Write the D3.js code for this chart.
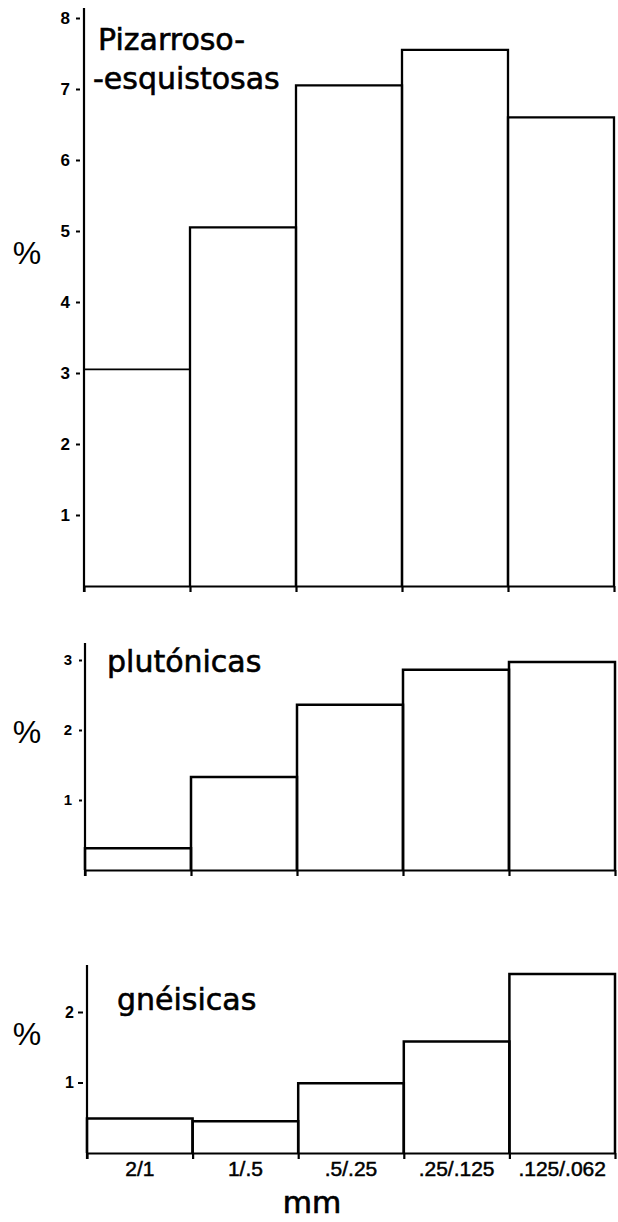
<!DOCTYPE html>
<html><head><meta charset="utf-8">
<script src="https://cdn.jsdelivr.net/npm/d3@7"></script>
<style>
html,body{margin:0;padding:0;background:#fff;}
svg{display:block;}
text{font-family:"DejaVu Sans","Liberation Sans",sans-serif;fill:#000;}
</style></head>
<body>
<svg id="c" width="618" height="1222"></svg>
<script>
// ---- data ----
const categories = ["2/1", "1/.5", ".5/.25", ".25/.125", ".125/.062"];
const pizarrosoValues = [3.05, 5.05, 7.05, 7.55, 6.6];
const plutonicasValues = [0.31, 1.33, 2.36, 2.86, 2.97];
const gneisicasValues = [0.49, 0.45, 0.99, 1.58, 2.54];
const pizarrosoTicks = [1, 2, 3, 4, 5, 6, 7, 8];
const plutonicasTicks = [1, 2, 3];
const gneisicasTicks = [1, 2];
const titles = [["Pizarroso-", "-esquistosas"], ["plutónicas"], ["gnéisicas"]];
const yLabel = "%";
const xLabel = "mm";

// ---- layout ----
const panels = [
  {values: pizarrosoValues, ticks: pizarrosoTicks, ymax: 8, x0: 84, x1: 614, base: 586, top: 18, axisTop: 8,
   title: titles[0], titleX: [98, 93], titleY: [50, 89], pctY: 264, tickFont: 17, tickPad: 14, tickDash: [-8, -4], sw: 2.3},
  {values: plutonicasValues, ticks: plutonicasTicks, ymax: 3, x0: 85, x1: 615, base: 870, top: 660, axisTop: 643,
   title: titles[1], titleX: [107], titleY: [672], pctY: 743, tickFont: 15, tickPad: 13, tickDash: [-6, -3], sw: 2.5},
  {values: gneisicasValues, ticks: gneisicasTicks, ymax: 2, x0: 87, x1: 615, base: 1153, top: 1012, axisTop: 965,
   title: titles[2], titleX: [117], titleY: [1010], pctY: 1045, tickFont: 16, tickPad: 13, tickDash: [-9, -4], sw: 2.5, labels: true}
];

const svg = d3.select("#c");

panels.forEach((p, pi) => {
  const g = svg.append("g");
  const y = d3.scaleLinear().domain([0, p.ymax]).range([p.base, p.top]);
  const xb = d3.scaleBand().domain(categories).range([p.x0, p.x1]).padding(0);
  const xe = d3.scaleLinear().domain([0, categories.length]).range([p.x0, p.x1]);

  // histogram outline (step shape per bin)
  categories.forEach((c, i) => {
    const v = p.values[i];
    const a = xb(c), b = a + xb.bandwidth();
    const path = d3.path();
    path.moveTo(a, y(0));
    path.lineTo(a, y(v));
    path.lineTo(b, y(v));
    path.lineTo(b, y(0));
    g.append("path").attr("d", path.toString())
      .attr("fill", "none").attr("stroke", "#000")
      .attr("stroke-width", (pi === 0 && i === 0) ? 1.7 : p.sw);
  });

  // x axis: baseline + edge ticks
  const xa = g.append("g").attr("transform", `translate(0,${p.base})`)
    .call(d3.axisBottom(xe).tickValues(d3.range(categories.length + 1)).tickSize(6).tickFormat("").tickSizeOuter(0));
  xa.select(".domain").attr("stroke", "#000").attr("stroke-width", 2.2);
  xa.selectAll(".tick line").attr("stroke", "#000").attr("stroke-width", 2.2);

  // category labels (bottom panel only)
  if (p.labels) {
    const la = g.append("g").attr("transform", `translate(0,${p.base})`)
      .call(d3.axisBottom(xb).tickSize(0).tickPadding(8));
    la.select(".domain").remove();
    la.selectAll("text").style("font-size", "21px")
      .style("font-family", "'Liberation Sans',sans-serif")
      .attr("fill", "#000").attr("stroke", "#000").attr("stroke-width", 0.5);
    g.append("text").attr("x", 312).attr("y", 1213)
      .attr("text-anchor", "middle").style("font-size", "30px")
      .attr("stroke", "#000").attr("stroke-width", 0.7).text(xLabel);
  }

  // y axis
  const ya = g.append("g").attr("transform", `translate(${p.x0},0)`)
    .call(d3.axisLeft(y).tickValues(p.ticks).tickFormat(d3.format("d")).tickSize(0).tickPadding(p.tickPad).tickSizeOuter(0));
  ya.select(".domain").remove();
  ya.selectAll(".tick text").style("font-size", p.tickFont + "px").style("font-weight", "bold")
    .style("font-family", "'Liberation Sans',sans-serif").attr("fill", "#000");
  ya.selectAll(".tick line").attr("x1", p.tickDash[0]).attr("x2", p.tickDash[1])
    .attr("stroke", "#000").attr("stroke-width", 2);
  g.append("line").attr("x1", p.x0).attr("x2", p.x0).attr("y1", p.axisTop).attr("y2", p.base + 6)
    .attr("stroke", "#000").attr("stroke-width", 2.2);

  // y label
  g.append("text").attr("x", 27).attr("y", p.pctY).attr("text-anchor", "middle")
    .style("font-family", "'Liberation Sans',sans-serif").style("font-size", "32px").text(yLabel);

  // title
  p.title.forEach((t, k) => {
    g.append("text").attr("x", p.titleX[k]).attr("y", p.titleY[k])
      .style("font-size", "30px").attr("stroke", "#000").attr("stroke-width", 0.6).text(t);
  });
});
</script>
</body></html>
